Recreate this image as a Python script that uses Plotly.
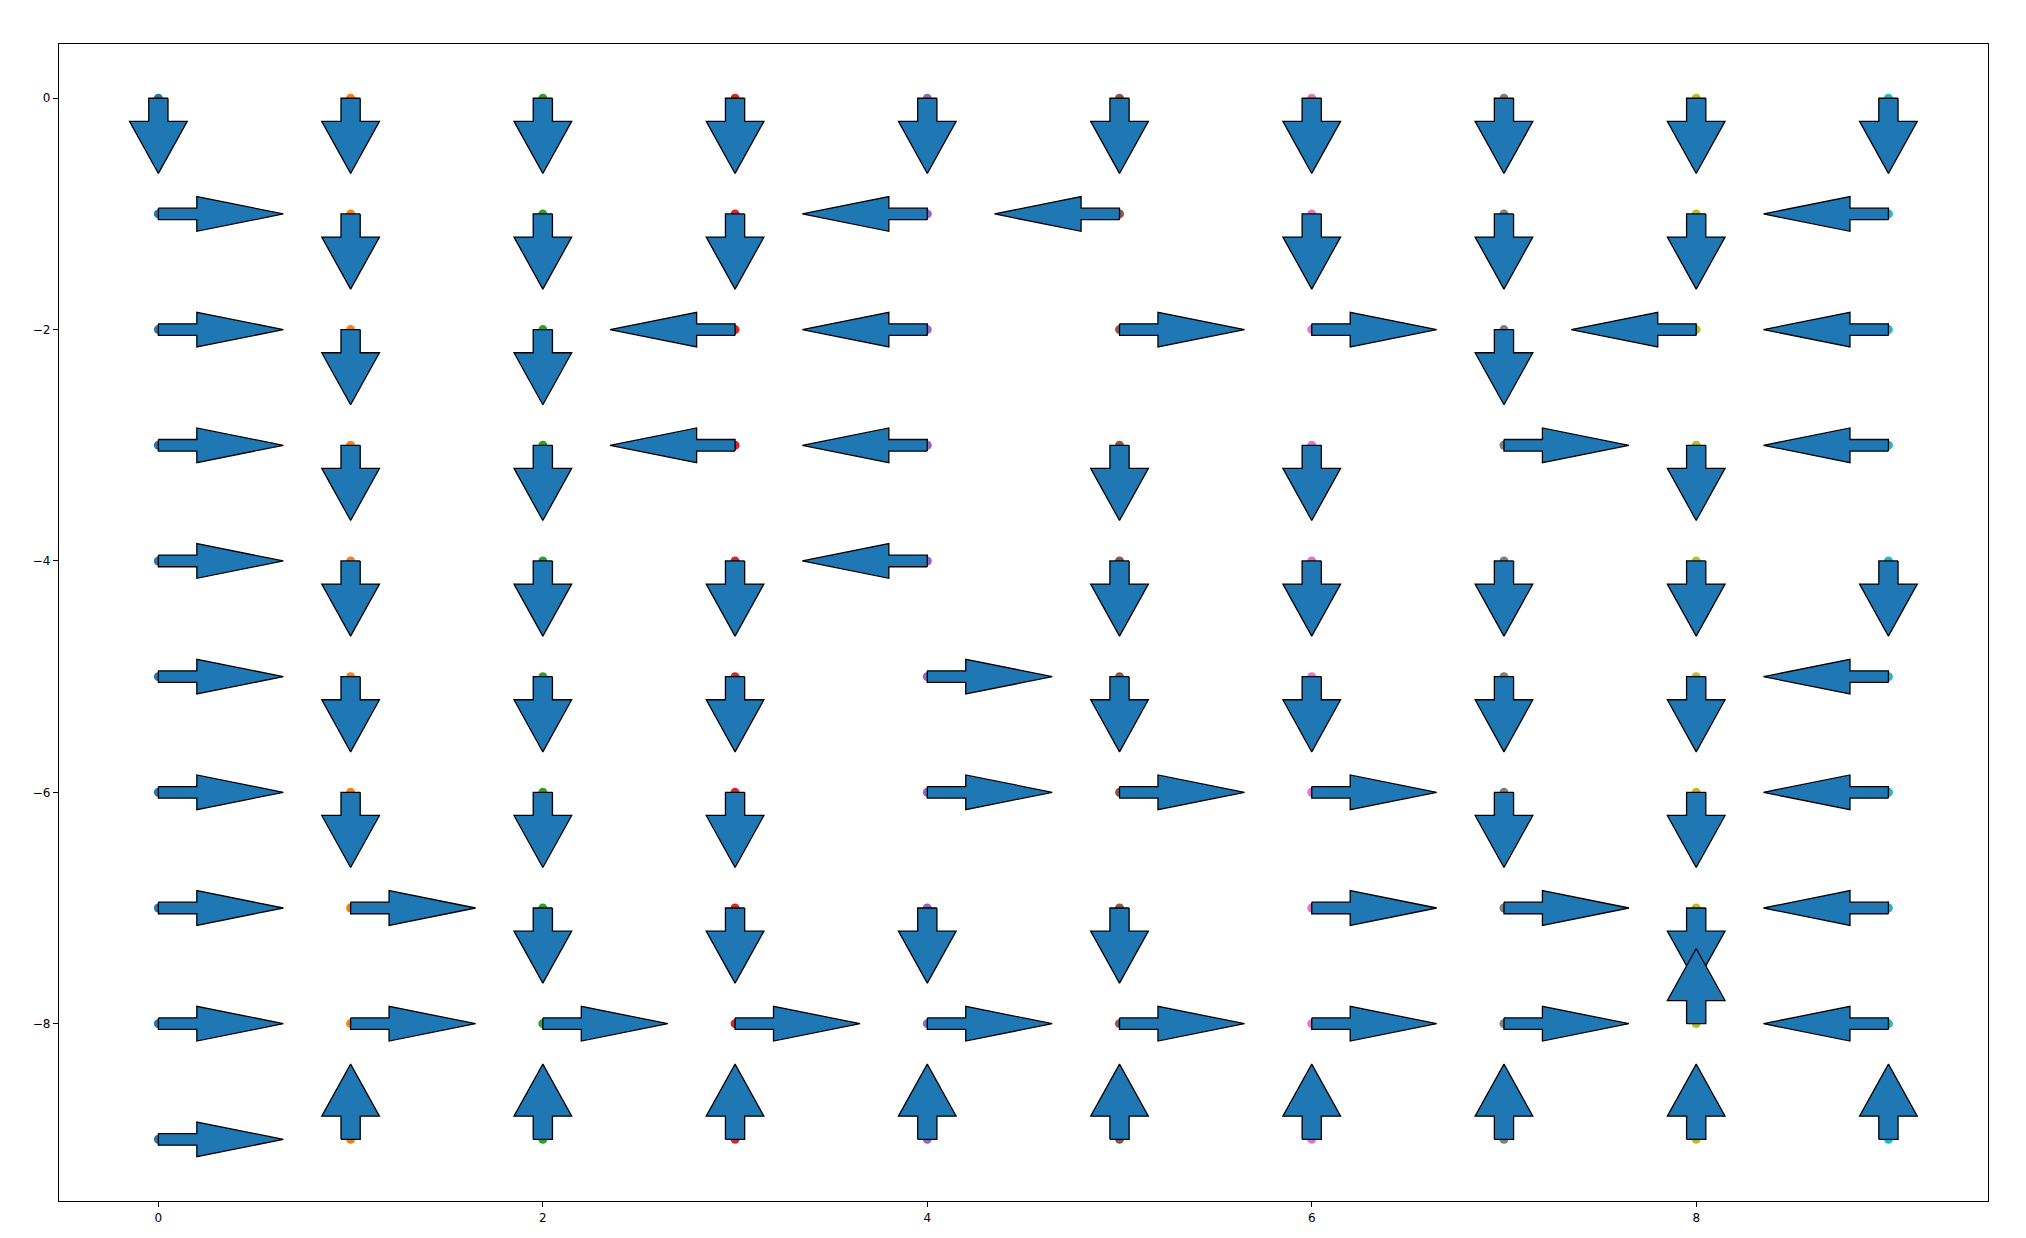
import plotly.graph_objects as go

# Grid of arrow directions, rows y = 0 .. -9, columns x = 0 .. 9
directions = [
    "DDDDDDDDDD",
    "RDDDLLDDDL",
    "RDDLLRRDLL",
    "RDDLLDDRDL",
    "RDDDLDDDDD",
    "RDDDRDDDDL",
    "RDDDRRRDDL",
    "RRDDDDRRDL",
    "RRRRRRRRUL",
    "RUUUUUUUUU",
]
xs = list(range(10))
ys = [0, -1, -2, -3, -4, -5, -6, -7, -8, -9]
col_colors = ["#1f77b4", "#ff7f0e", "#2ca02c", "#d62728", "#9467bd",
              "#8c564b", "#e377c2", "#7f7f7f", "#bcbd22", "#17becf"]
x_ticks = [0, 2, 4, 6, 8]
y_ticks = [0, -2, -4, -6, -8]

# arrow geometry (data units) like matplotlib arrow(dx=0.2, width=0.1)
SHAFT = 0.2
HEAD = 0.45
W = 0.05
HW = 0.15
vec = {"D": (0, -1), "U": (0, 1), "L": (-1, 0), "R": (1, 0)}

fig = go.Figure()

# dots per column
for i, x in enumerate(xs):
    fig.add_trace(go.Scatter(
        x=[x] * len(ys), y=ys, mode="markers",
        marker=dict(color=col_colors[i], size=9, line=dict(width=0)),
        hoverinfo="skip", showlegend=False))

def arrow_poly(x0, y0, d):
    ux, uy = vec[d]
    px, py = -uy, ux
    pts = [
        (0, W), (SHAFT, W), (SHAFT, HW), (SHAFT + HEAD, 0),
        (SHAFT, -HW), (SHAFT, -W), (0, -W), (0, W)
    ]
    X = [x0 + a * ux + b * px for a, b in pts]
    Y = [y0 + a * uy + b * py for a, b in pts]
    return X, Y

for r, y in enumerate(ys):
    for c, x in enumerate(xs):
        X, Y = arrow_poly(x, y, directions[r][c])
        fig.add_trace(go.Scatter(
            x=X, y=Y, mode="lines", fill="toself", fillcolor="#1f77b4",
            line=dict(color="black", width=1.3), hoverinfo="skip",
            showlegend=False))

axis_common = dict(
    showgrid=False, zeroline=False, showline=True, linecolor="black",
    linewidth=1.3, mirror=True, ticks="outside", ticklen=5, tickwidth=1.2,
    tickcolor="black", tickfont=dict(family="DejaVu Sans", size=12, color="black"),
)
fig.update_xaxes(range=[-0.517, 9.518], tickvals=x_ticks, **axis_common)
fig.update_yaxes(range=[-9.533, 0.469], tickvals=y_ticks, **axis_common)

fig.update_layout(
    width=2026, height=1238,
    margin=dict(l=59, r=38, t=44, b=37),
    paper_bgcolor="white", plot_bgcolor="white",
    showlegend=False, hovermode=False,
)

fig.write_html("out.html")
